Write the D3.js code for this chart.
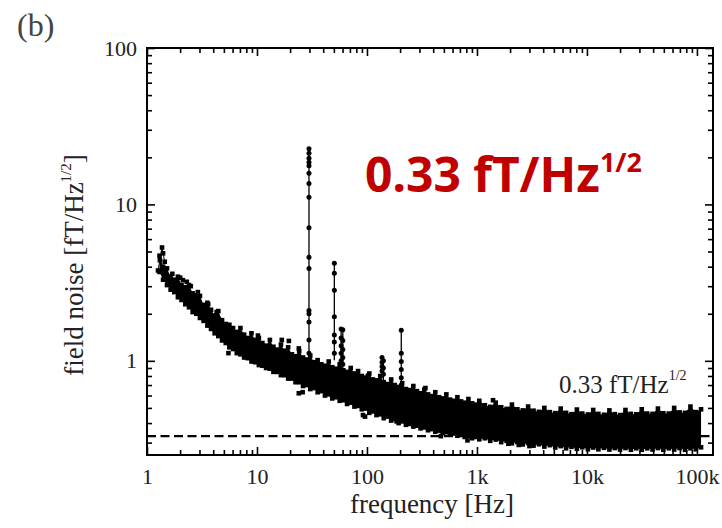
<!DOCTYPE html>
<html><head><meta charset="utf-8">
<script src="https://cdn.jsdelivr.net/npm/d3@7"></script>
<style>body{margin:0;background:#fff} svg{display:block}</style>
</head><body><svg id="c" width="722" height="528"></svg>
<script>
// ---- data ----
const xTickValues = [1, 10, 100, 1000, 10000, 100000];
const xTickLabels = ["1", "10", "100", "1k", "10k", "100k"];
const yTickValues = [1, 10, 100];
const yTickLabels = ["1", "10", "100"];
const floorLevel = 0.33;

const bandFreq = [1.30,1.40,1.52,1.64,1.77,1.91,2.06,2.23,2.41,2.60,2.81,3.03,3.27,3.54,3.82,4.12,4.45,4.81,5.20,5.61,6.06,6.55,7.07,7.64,8.25,8.91,9.62,10.4,11.2,12.1,13.1,14.1,15.3,16.5,17.8,19.2,20.8,22.4,24.2,26.2,28.3,30.5,33.0,35.6,38.5,41.5,44.9,48.4,52.3,56.5,61.0,65.9,71.2,76.9,83.0,89.7,96.8,105,113,122,132,142,154,166,179,194,209,226,244,264,285,307,332,359,387,418,452,488,527,569,615,664,717,774,836,903,975,1050,1180,1320,1480,1660,1860,2080,2330,2610,2920,3270,3660,4100,4600,5150,5770,6460,7230,8100,9070,10200,11400,12700,14300,16000,17900,20000,22400,25100,28100,31500,35300,39500,44200,49500,55500,62100,69600,77900,87300,97700,109000];
const bandUpper = [4.7,4.0,3.9,3.45,3.3,3.45,3.05,2.95,3.05,2.7,2.62,2.6,2.28,2.35,2.12,1.95,2.08,1.82,1.72,1.7,1.62,1.53,1.62,1.47,1.4,1.5,1.36,1.4,1.3,1.25,1.36,1.23,1.18,1.27,1.16,1.22,1.1,1.07,1.15,1.05,1.02,1.08,0.98,1.01,0.95,0.93,0.99,0.91,0.89,0.95,0.87,0.85,0.9,0.83,0.86,0.8,0.78,0.83,0.76,0.75,0.8,0.73,0.71,0.76,0.7,0.68,0.72,0.66,0.65,0.69,0.64,0.62,0.655,0.61,0.595,0.63,0.585,0.575,0.61,0.565,0.555,0.585,0.55,0.54,0.57,0.535,0.525,0.555,0.52,0.508,0.54,0.505,0.493,0.525,0.49,0.482,0.51,0.48,0.472,0.5,0.47,0.463,0.495,0.465,0.456,0.488,0.46,0.454,0.485,0.458,0.452,0.482,0.456,0.45,0.485,0.458,0.455,0.49,0.46,0.458,0.495,0.462,0.46,0.5,0.468,0.465,0.51,0.47,0.49];
const bandLower = [3.7,3.3,3.05,2.85,2.75,2.55,2.45,2.3,2.2,2.05,2.0,1.88,1.8,1.68,1.6,1.5,1.44,1.35,1.3,1.22,1.19,1.12,1.1,1.05,1.04,0.99,0.98,0.94,0.93,0.9,0.89,0.85,0.85,0.81,0.81,0.77,0.77,0.73,0.73,0.69,0.7,0.66,0.67,0.63,0.64,0.6,0.61,0.575,0.585,0.555,0.56,0.53,0.54,0.51,0.515,0.49,0.495,0.465,0.475,0.45,0.455,0.43,0.44,0.415,0.425,0.4,0.41,0.39,0.395,0.38,0.385,0.37,0.375,0.36,0.366,0.352,0.358,0.345,0.35,0.338,0.343,0.332,0.337,0.326,0.331,0.32,0.326,0.315,0.32,0.308,0.314,0.302,0.308,0.297,0.303,0.292,0.298,0.287,0.293,0.283,0.289,0.279,0.285,0.276,0.282,0.274,0.28,0.272,0.279,0.272,0.278,0.271,0.277,0.271,0.277,0.27,0.276,0.27,0.276,0.271,0.277,0.27,0.276,0.271,0.277,0.27,0.276,0.272,0.28];

const scatterFreq  = [1.26,1.31,1.37,1.40,1.45,1.7,2.0,2.12,2.3,2.5,2.9,3.6,4.3,5.5,10.2,16.8,19.5,24,24,26,92,96,186,340,1400,1930,2400,3000,470,820];
const scatterValue = [3.78,4.4,5.3,4.87,4.3,3.6,3.4,3.28,3.2,3.0,2.75,2.3,2.05,1.12,1.45,1.36,1.34,1.2,0.62,0.63,0.45,0.44,0.41,0.67,0.56,0.295,0.29,0.285,0.33,0.31];

const peakFreq = [29.7, 50.5, 58.2, 60.3, 90, 102, 137, 141, 205];
const peakDots = [
  [22.7,21.2,19.7,18.6,17.7,15.8,13.6,11.1,7.1,4.6,3.9,2.1,2.0,1.77,1.36,1.12],
  [4.2,3.63,2.83,1.91,1.46,1.32,1.12],
  [1.6,1.4,1.25,1.12,1.0],
  [1.58,1.35,1.18,1.05,0.95],
  [0.79,0.74],
  [0.81,0.76],
  [1.05,0.98,0.92,0.86],
  [1.0,0.9,0.82],
  [1.57,1.12,0.99,0.88,0.78,0.7]
];

// ---- drawing ----
const svg = d3.select('#c');
const L = 147, R = 713, T = 48, B = 455;
const x = d3.scaleLog().domain([1, 140000]).range([L, R]);
const y = d3.scaleLog().domain([0.25, 100]).range([B, T]);
const serif = "'Liberation Serif','Times New Roman',serif";
const txt = "#222";
const S = 4.6; // square marker size

svg.append('defs').append('clipPath').attr('id', 'clip')
  .append('rect').attr('x', L).attr('y', T).attr('width', R - L).attr('height', B - T);
const plot = svg.append('g').attr('clip-path', 'url(#clip)');

// floor line
plot.append('line')
  .attr('x1', x(1)).attr('x2', x(140000))
  .attr('y1', y(floorLevel)).attr('y2', y(floorLevel))
  .attr('stroke', '#000').attr('stroke-width', 2.3).attr('stroke-dasharray', '9,4.5');

const band = bandFreq.map((f, i) => ({f, u: bandUpper[i], l: bandLower[i]}));
plot.append('path').datum(band)
  .attr('d', d3.area().x(d => x(d.f)).y0(d => y(d.l)).y1(d => y(d.u)))
  .attr('fill', '#000');
plot.append('g').selectAll('rect').data(band).join('rect')
  .attr('x', d => x(d.f) - S / 2).attr('y', d => y(d.u) - S / 2)
  .attr('width', S).attr('height', S).attr('fill', '#000');
plot.append('g').selectAll('rect').data(band).join('rect')
  .attr('x', d => x(d.f) - S / 2).attr('y', d => y(d.l) - S / 2)
  .attr('width', S).attr('height', S).attr('fill', '#000');

const scat = scatterFreq.map((f, i) => ({f, v: scatterValue[i]}));
plot.append('path').datum(scat.slice(0, 5))
  .attr('d', d3.line().x(d => x(d.f)).y(d => y(d.v)))
  .attr('fill', 'none').attr('stroke', '#000').attr('stroke-width', 1);
plot.append('g').selectAll('rect').data(scat).join('rect')
  .attr('x', d => x(d.f) - S / 2).attr('y', d => y(d.v) - S / 2)
  .attr('width', S).attr('height', S).attr('fill', '#000');

peakFreq.forEach((f, i) => {
  const vals = peakDots[i];
  plot.append('line')
    .attr('x1', x(f)).attr('x2', x(f))
    .attr('y1', y(d3.max(vals))).attr('y2', y(d3.min(vals) * 0.9))
    .attr('stroke', '#000').attr('stroke-width', 1.3);
  plot.append('g').selectAll('circle').data(vals).join('circle')
    .attr('cx', x(f)).attr('cy', v => y(v)).attr('r', 2.5).attr('fill', '#000');
});

// frame
svg.append('rect').attr('x', L).attr('y', T).attr('width', R - L).attr('height', B - T)
  .attr('fill', 'none').attr('stroke', '#000').attr('stroke-width', 2);

const xMinor = x.ticks().filter(v => !xTickValues.includes(v));
const yMinor = y.ticks().filter(v => !yTickValues.includes(v));

function styleAxis(g) {
  g.select('.domain').remove();
  g.selectAll('.tick line').attr('stroke', '#000').attr('stroke-width', 1.6);
  g.selectAll('.tick text').attr('font-family', serif).attr('font-size', 22).attr('fill', txt);
}
// bottom
svg.append('g').attr('transform', `translate(0,${B})`)
  .call(d3.axisBottom(x).tickValues(xTickValues).tickSize(-8).tickPadding(13)
    .tickFormat((d, i) => xTickLabels[i])).call(styleAxis);
svg.append('g').attr('transform', `translate(0,${B})`)
  .call(d3.axisBottom(x).tickValues(xMinor).tickSize(-5).tickFormat('')).call(styleAxis);
// top
svg.append('g').attr('transform', `translate(0,${T})`)
  .call(d3.axisTop(x).tickValues(xTickValues).tickSize(-8).tickFormat('')).call(styleAxis);
svg.append('g').attr('transform', `translate(0,${T})`)
  .call(d3.axisTop(x).tickValues(xMinor).tickSize(-5).tickFormat('')).call(styleAxis);
// left
svg.append('g').attr('transform', `translate(${L},0)`)
  .call(d3.axisLeft(y).tickValues(yTickValues).tickSize(-8).tickPadding(10)
    .tickFormat((d, i) => yTickLabels[i])).call(styleAxis);
svg.append('g').attr('transform', `translate(${L},0)`)
  .call(d3.axisLeft(y).tickValues(yMinor).tickSize(-5).tickFormat('')).call(styleAxis);
// right
svg.append('g').attr('transform', `translate(${R},0)`)
  .call(d3.axisRight(y).tickValues(yTickValues).tickSize(-8).tickFormat('')).call(styleAxis);
svg.append('g').attr('transform', `translate(${R},0)`)
  .call(d3.axisRight(y).tickValues(yMinor).tickSize(-5).tickFormat('')).call(styleAxis);

// titles
svg.append('text').attr('x', 17).attr('y', 36).attr('font-family', serif)
  .attr('font-size', 32).attr('fill', '#444').text('(b)');

svg.append('text').attr('x', 432).attr('y', 513).attr('text-anchor', 'middle')
  .attr('font-family', serif).attr('font-size', 27).attr('fill', txt).text('frequency [Hz]');

const yt = svg.append('text').attr('transform', 'translate(83,265) rotate(-90)')
  .attr('text-anchor', 'middle').attr('font-family', serif).attr('font-size', 27).attr('fill', txt);
yt.append('tspan').text('field noise [fT/Hz');
yt.append('tspan').attr('font-size', 15).attr('dy', -12).text('1/2');
yt.append('tspan').attr('dy', 12).text(']');

const an = svg.append('text').attr('x', 559).attr('y', 393)
  .attr('font-family', serif).attr('font-size', 25).attr('fill', txt);
an.append('tspan').text('0.33 fT/Hz');
an.append('tspan').attr('font-size', 14).attr('dy', -13).text('1/2');

const red = svg.append('text').attr('x', 365).attr('y', 192)
  .attr('font-family', "'Noto Sans',sans-serif").attr('font-weight', 'bold')
  .attr('font-size', 48).attr('fill', '#c00000');
red.append('tspan').text('0.33 fT/Hz');
red.append('tspan').attr('font-size', 27).attr('dy', -20).text('1/2');
</script></body></html>
